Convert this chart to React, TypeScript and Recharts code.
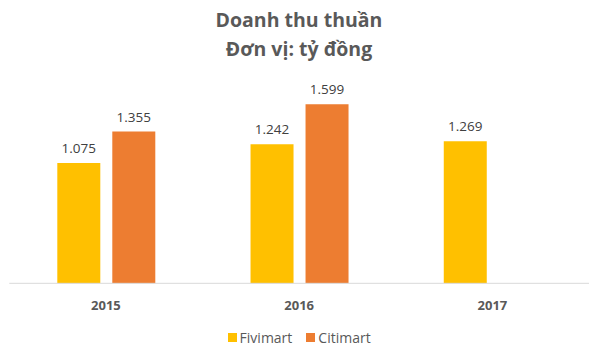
import React from "react";
import { BarChart, Bar, XAxis, YAxis, Legend, LabelList } from "recharts";

const years = ["2015", "2016", "2017"];
const fivimart = [1075, 1242, 1269];
const citimart: (number | null)[] = [1355, 1599, null];
const seriesNames = ["Fivimart", "Citimart"];
const seriesColors = ["#FFC000", "#ED7D31"];
const titleLines = ["Doanh thu thuần", "Đơn vị: tỷ đồng"];

const data = years.map((y, i) => ({
  year: y,
  Fivimart: fivimart[i],
  Citimart: citimart[i],
}));

const FONT = "'Open Sans', 'Noto Sans', sans-serif";

const fmt = (v: any) =>
  v === null || v === undefined ? "" : String(v).replace(/\B(?=(\d{3})+(?!\d))/g, ".");

const LegendContent = () => (
  <div
    style={{
      display: "flex",
      justifyContent: "center",
      alignItems: "center",
      paddingTop: 15,
      fontFamily: FONT,
      fontSize: 14,
      color: "#595959",
    }}
  >
    {seriesNames.map((n, i) => (
      <div key={n} style={{ display: "flex", alignItems: "center", marginRight: i === 0 ? 14 : 0 }}>
        <span style={{ width: 9, height: 9, background: seriesColors[i], display: "inline-block", marginRight: 3 }} />
        <span>{n}</span>
      </div>
    ))}
  </div>
);

export default function App() {
  return (
    <div style={{ position: "absolute", left: 0, top: 0, width: 597, height: 355, background: "#fff" }}>
      <svg width={597} height={70} style={{ position: "absolute", left: 0, top: 0 }}>
        {titleLines.map((t, i) => (
          <text
            key={i}
            x={299}
            y={26.5 + i * 29.3}
            textAnchor="middle"
            fontFamily={FONT}
            fontWeight="bold"
            fontSize={19.5}
            fill="#595959"
          >
            {t}
          </text>
        ))}
      </svg>
      <BarChart
        width={597}
        height={355}
        data={data}
        margin={{ top: 81.7, right: 8, left: 9.3, bottom: 0 }}
        barSize={43}
        barGap={12}
      >
        <XAxis
          dataKey="year"
          height={30}
          axisLine={{ stroke: "#D9D9D9", strokeWidth: 1 }}
          tickLine={false}
          tickSize={0}
          tickMargin={17}
          tick={{ fill: "#595959", fontSize: 13, fontWeight: "bold", fontFamily: FONT }}
        />
        <YAxis hide domain={[0, 1800]} />
        <Legend verticalAlign="bottom" height={41.7} content={<LegendContent />} />
        <Bar dataKey="Fivimart" fill={seriesColors[0]} isAnimationActive={false}>
          <LabelList
            dataKey="Fivimart"
            position="top"
            offset={10}
            formatter={fmt}
            style={{ fill: "#404040", fontSize: 13.5, fontFamily: FONT }}
          />
        </Bar>
        <Bar dataKey="Citimart" fill={seriesColors[1]} isAnimationActive={false}>
          <LabelList
            dataKey="Citimart"
            position="top"
            offset={10}
            formatter={fmt}
            style={{ fill: "#404040", fontSize: 13.5, fontFamily: FONT }}
          />
        </Bar>
      </BarChart>
    </div>
  );
}
